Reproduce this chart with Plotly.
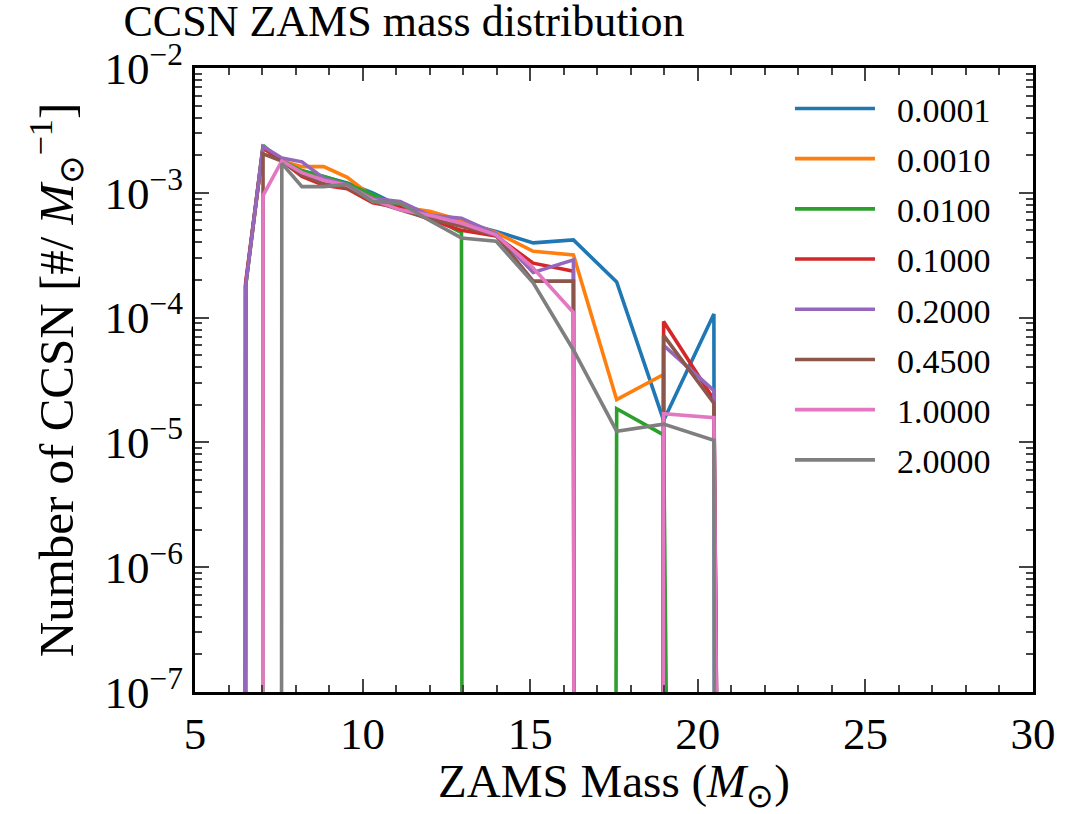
import plotly.graph_objects as go

# ZAMS mass bin centres (Msun)
masses = [6.03, 6.51, 7.03, 7.59, 8.19, 8.84, 9.54, 10.30, 11.12, 12.00, 12.95,
          13.98, 15.09, 16.29, 17.58, 18.98, 20.48, 22.11, 23.86, 25.76, 27.80, 30.01]

metallicities = ["0.0001", "0.0010", "0.0100", "0.1000", "0.2000", "0.4500", "1.0000", "2.0000"]

z_0p0001 = [0, 1.8e-4, 2.3e-3, 1.8e-3, 1.5e-3, 1.35e-3, 1.2e-3, 1.0e-3, 7.8e-4, 6.8e-4, 5.8e-4,
            4.9e-4, 3.97e-4, 4.19e-4, 1.93e-4, 1.5e-5, 1.07e-4, 0, 0, 0, 0, 0]
z_0p001 = [0, 1.8e-4, 2.3e-3, 1.8e-3, 1.62e-3, 1.62e-3, 1.33e-3, 9.3e-4, 7.7e-4, 7.1e-4, 6.0e-4,
           4.8e-4, 3.4e-4, 3.18e-4, 2.2e-5, 3.5e-5, 0, 0, 0, 0, 0, 0]
z_0p01 = [0, 1.8e-4, 2.4e-3, 1.8e-3, 1.5e-3, 1.35e-3, 1.18e-3, 9.7e-4, 7.7e-4, 6.5e-4, 4.8e-4,
          0, 0, 0, 1.86e-5, 1.15e-5, 0, 0, 0, 0, 0, 0]
z_0p1 = [0, 1.9e-4, 2.3e-3, 1.8e-3, 1.35e-3, 1.15e-3, 1.08e-3, 8.3e-4, 7.6e-4, 6.1e-4, 5.0e-4,
         4.5e-4, 2.73e-4, 2.35e-4, 0, 9.3e-5, 2.2e-5, 0, 0, 0, 0, 0]
z_0p2 = [0, 1.8e-4, 2.35e-3, 1.9e-3, 1.77e-3, 1.31e-3, 1.15e-3, 9.0e-4, 8.5e-4, 6.6e-4, 6.26e-4,
         4.7e-4, 2.3e-4, 2.9e-4, 0, 6.0e-5, 2.6e-5, 0, 0, 0, 0, 0]
z_0p45 = [0, 0, 2.05e-3, 1.8e-3, 1.4e-3, 1.18e-3, 1.1e-3, 8.6e-4, 7.3e-4, 6.2e-4, 5.4e-4,
          4.55e-4, 1.96e-4, 1.96e-4, 0, 7.2e-5, 2.06e-5, 0, 0, 0, 0, 0]
z_1p0 = [0, 0, 9.5e-4, 1.8e-3, 1.45e-3, 1.26e-3, 1.15e-3, 8.8e-4, 7.3e-4, 6.6e-4, 5.7e-4,
         4.6e-4, 2.5e-4, 1.1e-4, 0, 1.7e-5, 1.58e-5, 0, 0, 0, 0, 0]
z_2p0 = [0, 0, 0, 1.72e-3, 1.12e-3, 1.12e-3, 1.17e-3, 8.5e-4, 8.3e-4, 6.0e-4, 4.35e-4,
         4.1e-4, 1.9e-4, 5.5e-5, 1.23e-5, 1.4e-5, 1.04e-5, 0, 0, 0, 0, 0]

series = [z_0p0001, z_0p001, z_0p01, z_0p1, z_0p2, z_0p45, z_1p0, z_2p0]
colors = ["#1f77b4", "#ff7f0e", "#2ca02c", "#d62728", "#9467bd", "#8c564b", "#e377c2", "#7f7f7f"]

y_tickvals = [1e-7, 1e-6, 1e-5, 1e-4, 1e-3, 1e-2]
y_ticktext = ["10<sup>\u22127</sup>", "10<sup>\u22126</sup>", "10<sup>\u22125</sup>",
              "10<sup>\u22124</sup>", "10<sup>\u22123</sup>", "10<sup>\u22122</sup>"]
x_tickvals = [5, 10, 15, 20, 25, 30]

FONT = "Liberation Serif"

fig = go.Figure()
for i, (name, vals, col) in enumerate(zip(metallicities, series, colors)):
    # mimic matplotlib log-scale clipping of non-positive values
    yv = [v if v > 0 else 1e-300 for v in vals]
    fig.add_trace(go.Scatter(x=masses, y=yv, mode="lines", name="\u2002" + name,
                             legendgroup="g%d" % i,
                             line=dict(color=col, width=3.6)))

minor_y = [k * 10.0 ** e for e in range(-7, -2) for k in range(2, 10)]
minor_x = [v for v in range(5, 31) if v % 5 != 0]

fig.update_layout(
    width=1074, height=814,
    margin=dict(l=195, r=41, t=68, b=122, autoexpand=False),
    paper_bgcolor="white", plot_bgcolor="white",
    font=dict(family=FONT, color="black"),
    title=dict(text="CCSN ZAMS mass distribution", font=dict(size=44, family=FONT),
               x=0.115, xanchor="left", xref="container", y=0.994, yanchor="top",
               pad=dict(t=0, b=0, l=0, r=0), automargin=False),
    legend=dict(x=0.71, y=0.981, xanchor="left", yanchor="top",
                font=dict(size=34, family=FONT), bgcolor="rgba(0,0,0,0)",
                borderwidth=0, itemwidth=80, tracegroupgap=3),
    showlegend=True,
)

fig.update_xaxes(
    range=[5, 30], tickvals=x_tickvals, ticks="inside", ticklen=13, tickwidth=2,
    showline=True, linewidth=3, linecolor="black", mirror="allticks", automargin=False,
    showgrid=False, zeroline=False, tickfont=dict(size=45, family=FONT),
    minor=dict(tickvals=minor_x, ticks="inside", ticklen=7, tickwidth=2, showgrid=False),
    title=dict(text="ZAMS Mass (<i>M</i><sub>\u2299</sub>)", font=dict(size=47, family=FONT), standoff=18),
)
fig.update_yaxes(
    type="log", range=[-7, -2], tickvals=y_tickvals, ticktext=y_ticktext,
    ticks="inside", ticklen=14, tickwidth=2,
    showline=True, linewidth=3, linecolor="black", mirror="allticks", automargin=False,
    showgrid=False, zeroline=False, tickfont=dict(size=45, family=FONT),
    minor=dict(tickvals=minor_y, ticks="inside", ticklen=7, tickwidth=2, showgrid=False),
    title=dict(text="Number of CCSN [#/ <i>M</i><sub>\u2299</sub><sup>\u22121</sup>]",
               font=dict(size=49, family=FONT), standoff=16),
)

fig.write_html("out.html")
